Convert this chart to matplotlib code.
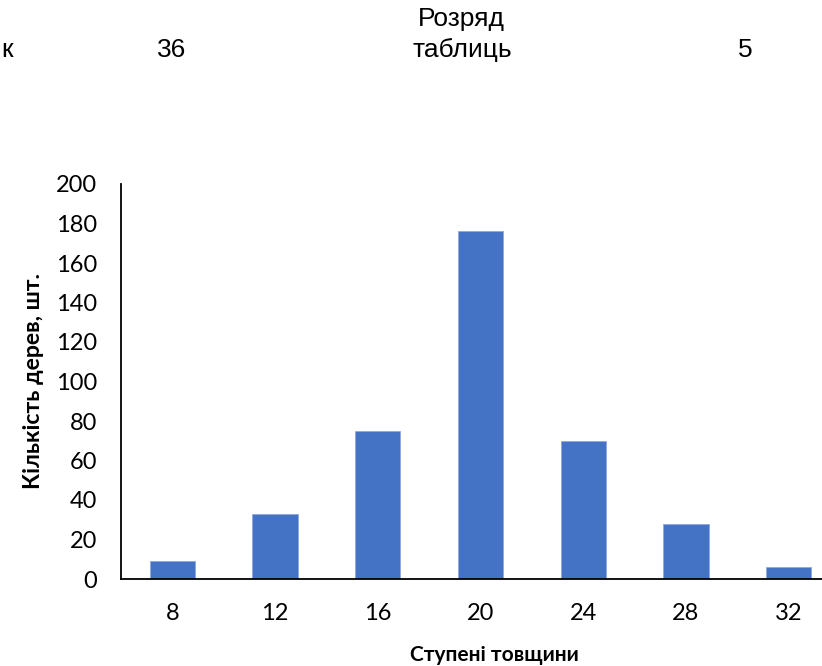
import matplotlib
matplotlib.use("Agg")
import matplotlib.pyplot as plt

categories = ["8", "12", "16", "20", "24", "28", "32"]
values = [9, 33, 75, 176, 70, 28, 6]
yticks = [0, 20, 40, 60, 80, 100, 120, 140, 160, 180, 200]

W, H = 822, 666
fig = plt.figure(figsize=(W / 100, H / 100), dpi=100)
ax = fig.add_axes([121 / W, (H - 579) / H, 719 / W, 395 / H])

x = list(range(len(categories)))
ax.bar(x, values, width=0.44, color="#4472C4", edgecolor="#8FAADC", linewidth=0.6, zorder=2)
ax.set_xlim(-0.5, len(categories) - 0.5)
ax.set_ylim(0, 200)
ax.set_yticks(yticks)
ax.set_xticks(x)
ax.set_xticklabels(categories)

for s in ["top", "right"]:
    ax.spines[s].set_visible(False)
for s in ["left", "bottom"]:
    ax.spines[s].set_linewidth(1.3)
    ax.spines[s].set_color("black")
    ax.spines[s].set_zorder(3)

ax.tick_params(axis="both", length=0)
ax.tick_params(axis="y", pad=17)
ax.tick_params(axis="x", pad=17)
for lab in ax.get_xticklabels() + ax.get_yticklabels():
    lab.set_fontfamily(["Lato", "DejaVu Sans"])
    lab.set_fontsize(17)

labfont = ["Lato", "DejaVu Sans"]
fig.text(494 / W, 1 - 655 / H, "Ступені товщини", ha="center", va="center",
         fontsize=15, fontweight="bold", family=labfont)
fig.text(33 / W, 1 - 381 / H, "Кількість дерев, шт.", ha="center", va="center",
         rotation=90, fontsize=16.6, fontweight="bold", family=labfont)

topfont = ["Liberation Sans", "DejaVu Sans"]
fs = 19
fig.text(461 / W, 1 - 19 / H, "Розряд", ha="center", va="center", fontsize=fs, family=topfont)
fig.text(462 / W, 1 - 50 / H, "таблиць", ha="center", va="center", fontsize=fs, family=topfont)
fig.text(172 / W, 1 - 50 / H, "36", ha="center", va="center", fontsize=fs, family=topfont)
fig.text(745 / W, 1 - 50 / H, "5", ha="center", va="center", fontsize=fs, family=topfont)
fig.text(1 / W, 1 - 50 / H, "к", ha="left", va="center", fontsize=fs, family=topfont)

fig.savefig("out.png", dpi=100)
